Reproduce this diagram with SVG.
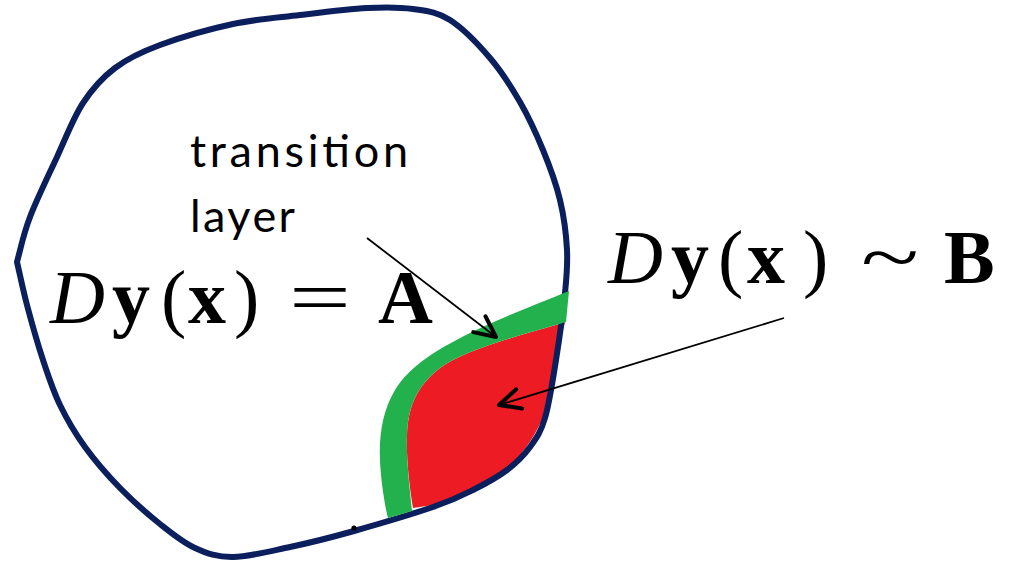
<svg xmlns="http://www.w3.org/2000/svg" width="1018" height="563" viewBox="0 0 1018 563">
<style>
.outline{fill:none;stroke:#0b1f5c;stroke-width:6;stroke-linejoin:round}
.lbl{font-family:Lato,"Noto Sans","DejaVu Sans",sans-serif;font-size:45px;fill:#000}
.m{font-family:"Liberation Serif","Times New Roman",serif;font-size:76px;fill:#000}
.it{font-style:italic}
.bf{font-weight:bold}
.conn{stroke:#000;stroke-width:1.8;fill:none}
</style>
<defs>
<marker id="ah" markerUnits="userSpaceOnUse" viewBox="-26 -14 30 28" markerWidth="30" markerHeight="28" refX="0" refY="0" orient="auto" overflow="visible">
<path d="M -21 -10 L 0 0 L -21 10" fill="none" stroke="#000" stroke-width="4" stroke-linecap="round" stroke-linejoin="round"/>
</marker>
</defs>
<rect width="1018" height="563" fill="#fff"/>
<g id="region-B">
<path d="M 566 322 C 510 338, 465 350, 440 368 C 418 385, 408 405, 407 435 C 406 460, 410 490, 413 508 L 433 505 C 460 496, 490 483, 507 469 C 528 450, 545 420, 550 395 C 556 365, 560 340, 565 322 Z" fill="#ed1c24"/>
</g>
<g id="domain">
<path class="outline" d="M 17 262 C 21 247, 23.3 234.5, 30 217 C 36.7 199.5, 48.2 176, 57 157 C 65.8 138, 73.3 117.8, 83 103 C 92.7 88.2, 102.2 77.7, 115 68 C 127.8 58.3, 140.3 52.3, 160 45 C 179.7 37.7, 209.7 29, 233 24 C 256.3 19, 277.7 17.7, 300 15 C 322.3 12.3, 348.2 9, 367 8 C 385.8 7, 399.2 7, 413 9 C 426.8 11, 437.2 11.8, 450 20 C 462.8 28.2, 478.3 44.3, 490 58 C 501.7 71.7, 511.2 86.7, 520 102 C 528.8 117.3, 536.3 133.7, 543 150 C 549.7 166.3, 556 183.3, 560 200 C 564 216.7, 566.2 234.5, 567 250 C 567.8 265.5, 566.8 274.7, 565 293 C 563.2 311.3, 559.3 339.2, 556 360 C 552.7 380.8, 549.3 403.5, 545 418 C 540.7 432.5, 536.3 438.3, 530 447 C 523.7 455.7, 516.5 462.8, 507 470 C 497.5 477.2, 485.3 483.8, 473 490 C 460.7 496.2, 452.8 500.2, 433 507 C 413.2 513.8, 377.8 524.3, 354 531 C 330.2 537.7, 310.2 542.7, 290 547 C 269.8 551.3, 248.8 556.8, 233 557 C 217.2 557.2, 207.2 553.5, 195 548 C 182.8 542.5, 172.5 534, 160 524 C 147.5 514, 132.5 500.8, 120 488 C 107.5 475.2, 95 460.8, 85 447 C 75 433.2, 67 419.5, 60 405 C 53 390.5, 48.5 376.7, 43 360 C 37.5 343.3, 31.3 321.3, 27 305 C 22.7 288.7, 20.3 276.3, 17 262 Z"/>
<circle cx="354" cy="528" r="2.6" fill="#000"/>
</g>
<g id="transition-layer">
<path d="M 569 291 C 540 303, 500 318, 470 333 C 440 348, 410 365, 395 390 C 380 415, 378 445, 381 475 C 383 495, 386 510, 388 518 L 412 511 C 410 490, 406 460, 407 435 C 408 405, 418 385, 440 368 C 465 350, 510 338, 566 322 Z" fill="#22b14c"/>
</g>
<g id="label-transition">
<text class="lbl" x="190" y="167" textLength="218">transition</text>
<text class="lbl" x="190" y="232" textLength="105">layer</text>
</g>
<g id="label-A">
<text class="m it" x="50" y="323">D</text>
<text class="m bf" x="112" y="323">y</text>
<text class="m" x="161" y="323">(</text>
<text class="m bf" x="188" y="323">x</text>
<text class="m" x="234" y="323">)</text>
<text class="m" x="289" y="323" textLength="62" lengthAdjust="spacingAndGlyphs">=</text>
<text class="m bf" x="378" y="323">A</text>
</g>
<g id="label-B">
<text class="m it" x="608" y="283">D</text>
<text class="m bf" x="671" y="283">y</text>
<text class="m" x="718" y="283">(</text>
<text class="m bf" x="747" y="283">x</text>
<text class="m" x="803" y="283">)</text>
<text class="m" x="861" y="283" textLength="58" lengthAdjust="spacingAndGlyphs">~</text>
<text class="m bf" x="944" y="283">B</text>
</g>
<g id="connectors">
<line class="conn" x1="367" y1="238" x2="496" y2="337" marker-end="url(#ah)"/>
<line class="conn" x1="784" y1="318" x2="499" y2="405" marker-end="url(#ah)"/>
</g>
</svg>
